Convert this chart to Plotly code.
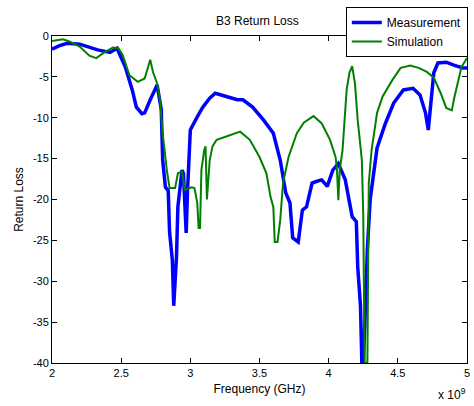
import plotly.graph_objects as go

# Measurement (blue), frequency in GHz, return loss in dB
meas_f = [2.00, 2.05, 2.11, 2.20, 2.33, 2.42, 2.47, 2.53, 2.58, 2.61, 2.65, 2.67, 2.71, 2.76,
          2.79, 2.80, 2.82, 2.84, 2.85, 2.87, 2.88, 2.90, 2.91, 2.94, 2.95, 2.97, 2.98, 2.99,
          3.00, 3.05, 3.09, 3.14, 3.18, 3.26, 3.34, 3.38, 3.45, 3.53, 3.60, 3.65, 3.69, 3.72,
          3.74, 3.78, 3.81, 3.84, 3.88, 3.91, 3.95, 3.99, 4.03, 4.07, 4.12, 4.17, 4.20, 4.21,
          4.23, 4.24, 4.25, 4.26, 4.28, 4.30, 4.33, 4.35, 4.41, 4.47, 4.54, 4.61, 4.66, 4.70,
          4.72, 4.73, 4.76, 4.79, 4.85, 4.91, 4.97, 5.00]
meas_v = [-1.6, -1.2, -0.9, -1.0, -1.7, -2.0, -1.5, -3.8, -6.6, -8.7, -9.5, -9.4, -7.8, -6.0,
          -9.0, -15.2, -18.5, -18.9, -24.0, -27.4, -33.0, -27.0, -20.9, -16.4, -16.8, -24.1, -18.8, -14.0,
          -11.5, -9.9, -8.7, -7.6, -7.0, -7.4, -7.8, -7.8, -8.7, -10.3, -11.9, -15.2, -19.2, -20.4,
          -24.7, -25.2, -21.3, -20.9, -18.0, -17.8, -17.6, -18.4, -16.4, -15.6, -17.6, -22.1, -22.7, -28.2,
          -33.0, -40.0, -40.0, -36.0, -26.0, -20.0, -16.0, -13.7, -10.7, -8.2, -6.6, -6.4, -7.2, -9.4,
          -11.5, -9.9, -4.5, -3.3, -3.2, -3.6, -3.9, -3.9]

# Simulation (green)
sim_f = [2.00, 2.08, 2.13, 2.20, 2.27, 2.32, 2.37, 2.44, 2.48, 2.51, 2.56, 2.62, 2.67, 2.71,
         2.73, 2.76, 2.78, 2.80, 2.83, 2.85, 2.89, 2.91, 2.94, 2.96, 3.01, 3.03, 3.05, 3.06,
         3.07, 3.08, 3.10, 3.11, 3.12, 3.14, 3.16, 3.19, 3.26, 3.34, 3.36, 3.43, 3.50, 3.55,
         3.58, 3.60, 3.61, 3.63, 3.65, 3.67, 3.71, 3.77, 3.82, 3.89, 3.95, 4.01, 4.05, 4.06,
         4.07, 4.08, 4.10, 4.13, 4.15, 4.17, 4.19, 4.21, 4.24, 4.25, 4.26, 4.28, 4.29, 4.31,
         4.32, 4.35, 4.39, 4.46, 4.52, 4.59, 4.65, 4.71, 4.76, 4.81, 4.85, 4.89, 4.91, 4.94,
         4.96, 5.00]
sim_v = [-0.6, -0.4, -0.7, -1.3, -2.4, -2.7, -2.1, -1.4, -1.5, -2.3, -4.8, -5.6, -5.2, -2.9,
         -4.4, -5.8, -7.8, -11.9, -16.4, -18.6, -18.6, -16.8, -16.6, -18.8, -18.5, -18.6, -20.4, -23.5,
         -23.5, -16.4, -14.0, -13.5, -20.0, -15.2, -13.5, -12.7, -12.3, -11.8, -11.7, -12.7, -14.8, -16.8,
         -19.7, -20.9, -25.2, -25.2, -22.5, -18.0, -14.8, -11.9, -10.6, -9.8, -10.7, -12.7, -14.8, -16.4,
         -20.1, -16.4, -14.0, -6.6, -4.5, -3.7, -5.8, -10.3, -15.2, -22.0, -40.0, -40.0, -18.0, -14.0,
         -12.7, -9.4, -7.4, -5.4, -3.9, -3.6, -3.9, -4.4, -5.1, -7.0, -8.8, -9.1, -7.4, -5.4,
         -3.8, -2.7]

x_ticks = [2, 2.5, 3, 3.5, 4, 4.5, 5]
x_tick_labels = ["2", "2.5", "3", "3.5", "4", "4.5", "5"]
y_ticks = [0, -5, -10, -15, -20, -25, -30, -35, -40]
y_tick_labels = ["0", "-5", "-10", "-15", "-20", "-25", "-30", "-35", "-40"]

font_family = "Liberation Sans, Arial, sans-serif"

fig = go.Figure()
fig.add_trace(go.Scatter(x=meas_f, y=meas_v, mode="lines", name="Measurement",
                         line=dict(color="#0000FF", width=3.5)))
fig.add_trace(go.Scatter(x=sim_f, y=sim_v, mode="lines", name="Simulation",
                         line=dict(color="#008000", width=2)))

axis_common = dict(showline=True, linecolor="black", linewidth=1, mirror="ticks",
                   ticks="inside", ticklen=5, tickcolor="black", showgrid=False,
                   zeroline=False, tickfont=dict(family=font_family, size=11, color="black"))

fig.update_xaxes(range=[2, 5], tickvals=x_ticks, ticktext=x_tick_labels,
                 title=dict(text="Frequency (GHz)", font=dict(family=font_family, size=12, color="black"),
                            standoff=6),
                 **axis_common)
fig.update_yaxes(range=[-40, 0], tickvals=y_ticks, ticktext=y_tick_labels,
                 title=dict(text="Return Loss", font=dict(family=font_family, size=12, color="black"),
                            standoff=6),
                 **axis_common)

fig.update_layout(
    width=474, height=406,
    margin=dict(l=52, r=7, t=36, b=43, autoexpand=False),
    paper_bgcolor="white", plot_bgcolor="white",
    font=dict(family=font_family, size=11, color="black"),
    title=dict(text="B3 Return Loss", x=0.543, xanchor="center", y=0.95, yanchor="middle",
               font=dict(family=font_family, size=12, color="black")),
    showlegend=True,
    legend=dict(x=0.708, y=1.089, xanchor="left", yanchor="top",
                bgcolor="white", bordercolor="black", borderwidth=1,
                font=dict(family=font_family, size=12, color="black"),
                tracegroupgap=0, itemwidth=30),
)

fig.add_annotation(text="x 10<sup>9</sup>", xref="paper", yref="paper", x=1.003, y=-0.095,
                   xanchor="right", yanchor="middle", showarrow=False,
                   font=dict(family=font_family, size=12, color="black"))

fig.write_html("out.html")
